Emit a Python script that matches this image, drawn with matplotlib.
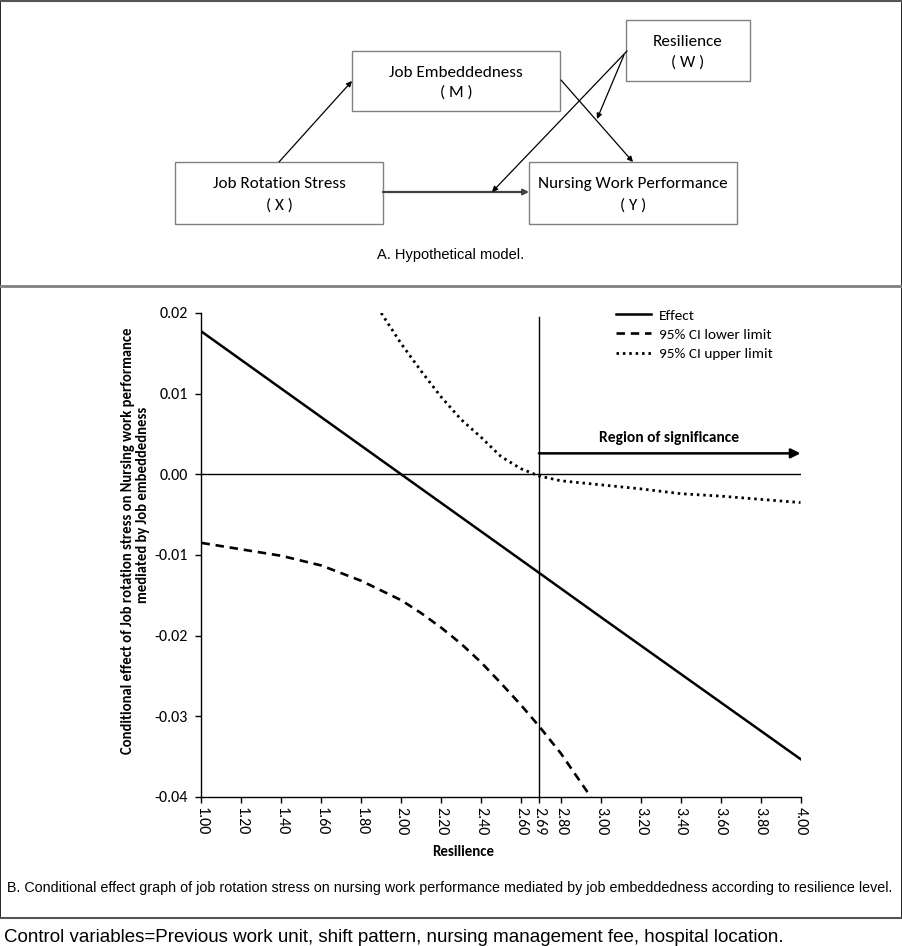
import matplotlib
matplotlib.use("Agg")
import matplotlib.pyplot as plt
from matplotlib.patches import Rectangle

plt.rcParams['font.family'] = ['Carlito', 'Lato', 'DejaVu Sans']

# ---------------- data ----------------
effect_x = [1.00, 2.00, 2.69, 3.00, 4.00]
effect_y = [0.0177, 0.0000, -0.0122, -0.0177, -0.0353]

lower_x = [1.00, 1.20, 1.40, 1.60, 1.80, 2.00, 2.10, 2.20, 2.30, 2.40, 2.50, 2.60, 2.69, 2.80, 2.95]
lower_y = [-0.0085, -0.0093, -0.0101, -0.0113, -0.0132, -0.0156, -0.0172, -0.0190,
           -0.0210, -0.0233, -0.0259, -0.0286, -0.0312, -0.0346, -0.0400]

upper_x = [1.90, 2.00, 2.10, 2.20, 2.30, 2.40, 2.50, 2.60, 2.69, 2.80, 3.00, 3.20, 3.40, 3.60, 3.80, 4.00]
upper_y = [0.0200, 0.0162, 0.0128, 0.0096, 0.0068, 0.0046, 0.0022, 0.0007, -0.0002,
           -0.0008, -0.0013, -0.0018, -0.0024, -0.0027, -0.0031, -0.0035]

jn_point = 2.69
x_ticks = [1.00, 1.20, 1.40, 1.60, 1.80, 2.00, 2.20, 2.40, 2.60, 2.69, 2.80,
           3.00, 3.20, 3.40, 3.60, 3.80, 4.00]
x_tick_labels = ['1.00', '1.20', '1.40', '1.60', '1.80', '2.00', '2.20', '2.40', '2.60',
                 '2.69', '2.80', '3.00', '3.20', '3.40', '3.60', '3.80', '4.00']
y_ticks = [-0.04, -0.03, -0.02, -0.01, 0.00, 0.01, 0.02]
y_tick_labels = ['-0.04', '-0.03', '-0.02', '-0.01', '0.00', '0.01', '0.02']
series_labels = ['Effect', '95% CI lower limit', '95% CI upper limit']

W, H = 903, 946
fig = plt.figure(figsize=(W / 100, H / 100), dpi=100)
fig.patch.set_facecolor('white')

# ---------------- overlay (frames, diagram, captions) ----------------
ov = fig.add_axes([0, 0, 1, 1], zorder=0)
ov.set_xlim(0, W)
ov.set_ylim(H, 0)
ov.axis('off')

# outer frames
ov.plot([0.5, 0.5], [0, 918], color='black', lw=1.2)
ov.plot([902.5, 902.5], [0, 918], color='black', lw=1.2)
ov.plot([0, W], [0.8, 0.8], color='#555555', lw=1.5)
ov.plot([0, W], [286, 286], color='#808080', lw=2)
ov.plot([0, W], [918, 918], color='#555555', lw=1.5)

box_font = dict(fontsize=12.3, ha='center', va='center')
boxes = [
    (352, 51, 208, 60, 'Job Embeddedness', '( M )'),
    (626, 20, 124, 61, 'Resilience', '( W )'),
    (175, 162, 208, 62, 'Job Rotation Stress', '( X )'),
    (529, 162, 208, 62, 'Nursing Work Performance', '( Y )'),
]
for (bx, by, bw, bh, t1, t2) in boxes:
    ov.add_patch(Rectangle((bx, by), bw, bh, fill=False, ec='#808080', lw=1))
    cx = bx + bw / 2
    ov.text(cx, by + bh * 0.36, t1, **box_font)
    ov.text(cx, by + bh * 0.70, t2, **box_font)

def arrow(p0, p1, lw=0.9, color='black', ms=8):
    ov.annotate('', xy=p1, xytext=p0,
                arrowprops=dict(arrowstyle='-|>', lw=lw, color=color,
                                mutation_scale=ms, shrinkA=0, shrinkB=0))

arrow((279, 162), (352, 81))
arrow((561, 80), (633, 162))
arrow((383, 192), (529, 192), lw=1.6, color='#404040')
arrow((627, 51), (492, 192))
arrow((624, 55), (597, 119))

cap_font = ['Liberation Sans', 'Arial', 'DejaVu Sans']
ov.text(451, 255, 'A. Hypothetical model.', family=cap_font, fontsize=10.5,
        ha='center', va='center')
ov.text(450, 888, 'B. Conditional effect graph of job rotation stress on nursing work '
        'performance mediated by job embeddedness according to resilience level.',
        family=cap_font, fontsize=10.3, ha='center', va='center')
ov.text(4, 937, 'Control variables=Previous work unit, shift pattern, nursing management '
        'fee, hospital location.', family=cap_font, fontsize=13.5, ha='left', va='center')

# ---------------- main chart ----------------
ax = fig.add_axes([201.5 / W, 1 - 797 / H, 599 / W, 484 / H], zorder=1)
ax.patch.set_alpha(0)
ax.set_xlim(1.0, 4.0)
ax.set_ylim(-0.04, 0.02)

l1, = ax.plot(effect_x, effect_y, color='black', lw=1.8, ls='-')
l2, = ax.plot(lower_x, lower_y, color='black', lw=1.9, ls=(0, (3.2, 2.2)))
l3, = ax.plot(upper_x, upper_y, color='black', lw=2.0, ls=(0, (0.9, 1.4)))

ax.axhline(0, color='black', lw=1)
ax.plot([jn_point, jn_point], [-0.04, 0.0195], color='black', lw=1)

for s in ['top', 'right']:
    ax.spines[s].set_visible(False)
for s in ['left', 'bottom']:
    ax.spines[s].set_linewidth(1)
    ax.spines[s].set_color('black')

ax.set_xticks(x_ticks)
ax.set_xticklabels(x_tick_labels, rotation=270, fontsize=11.5)
ax.set_yticks(y_ticks)
ax.set_yticklabels(y_tick_labels, fontsize=11.5)
ax.tick_params(axis='both', direction='out', length=4, width=1, colors='black')
ax.tick_params(axis='y', pad=6)
ax.tick_params(axis='x', pad=3)

ax.set_xlabel('Resilience', fontsize=10.7, fontweight='bold')
ax.xaxis.set_label_coords((463 - 201.5) / 599, -(845 - 797) / 484)

fig.text(128 / W, 1 - 541 / H,
         'Conditional effect of Job rotation stress on Nursing work performance',
         rotation=90, ha='center', va='center', fontsize=10.5, fontweight='bold')
fig.text(143 / W, 1 - 505 / H, 'mediated by Job embeddedness',
         rotation=90, ha='center', va='center', fontsize=10.5, fontweight='bold')

ax.legend([l1, l2, l3], series_labels, loc='upper left',
          bbox_to_anchor=(616 / W, 1 - 309 / H), bbox_transform=fig.transFigure,
          frameon=False, fontsize=11, handlelength=2.3, handletextpad=0.5,
          labelspacing=0.42, borderpad=0, borderaxespad=0)

ax.annotate('', xy=(4.0, 0.0026), xytext=(jn_point, 0.0026),
            arrowprops=dict(arrowstyle='-|>', lw=1.8, color='black',
                            mutation_scale=14, shrinkA=0, shrinkB=0))
ax.text(3.34, 0.0045, 'Region of significance', ha='center', va='center',
        fontsize=11.2, fontweight='bold')

fig.savefig('out.png', dpi=100, facecolor='white')
